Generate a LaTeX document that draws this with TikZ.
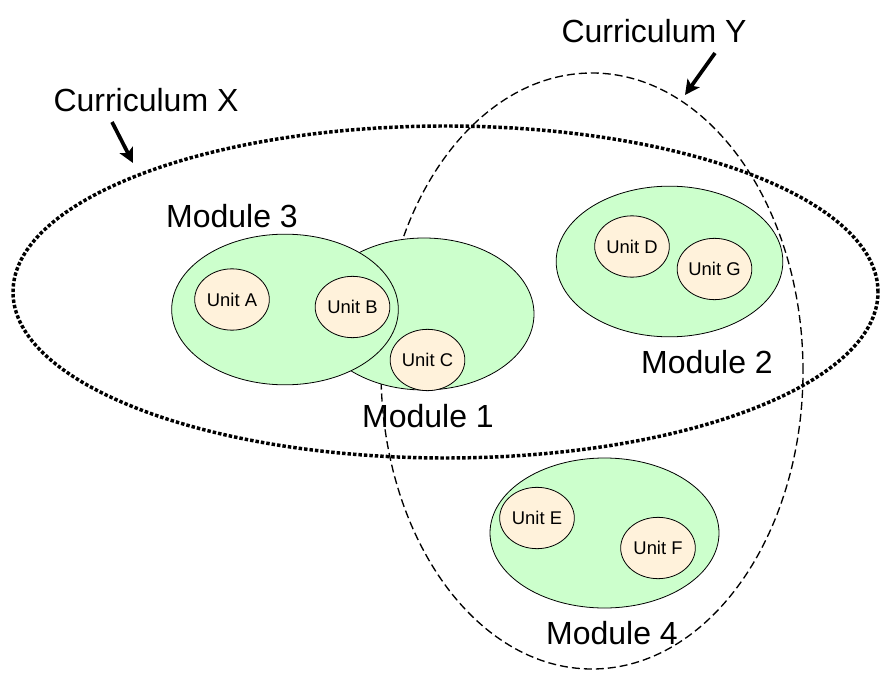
\documentclass[tikz,border=0pt]{standalone}
\usepackage{fontspec}
\setmainfont{Liberation Sans}
\usetikzlibrary{shapes.geometric}
\usetikzlibrary{arrows.meta}
\definecolor{modgreen}{HTML}{CCFFCC}
\definecolor{unitcream}{HTML}{FFF2DB}
\tikzset{
  module/.style={ellipse,draw=black,line width=0.6pt,fill=modgreen,inner sep=0pt,minimum width=170pt,minimum height=113pt},
  unit/.style={ellipse,draw=black,line width=0.6pt,fill=unitcream,inner sep=0pt,minimum width=56pt,minimum height=46pt,font=\fontsize{13.8}{16}\selectfont},
  biglabel/.style={font=\fontsize{24}{28}\selectfont,inner sep=0pt,anchor=base},
  pointer/.style={line width=2.8pt,-{Stealth[length=11pt,width=11pt,inset=2.5pt]}}
}
\begin{document}
\begin{tikzpicture}[x=0.75pt,y=-0.75pt]
\useasboundingbox (0,0) rectangle (880,673);
% the two curricula
\node[ellipse,draw,line width=2.6pt,dash pattern=on 2.6pt off 1.5pt,inner sep=0pt,minimum width=648.75pt,minimum height=249pt] (curX) at (445.5,292) {};
\node[ellipse,draw,line width=1pt,dash pattern=on 6pt off 3pt,inner sep=0pt,minimum width=316.5pt,minimum height=447pt] (curY) at (592,371) {};

% modules
\node[module,minimum width=165pt,minimum height=114pt] (mod1) at (424,314) {};
\node[module] (mod3) at (285,309.5) {};
\node[module] (mod2) at (669.5,261.5) {};
\node[module,minimum width=171.75pt,minimum height=112.5pt] (mod4) at (604.5,533) {};

% units
\node[unit] (unitA) at (232,299.5) {Unit A};
\node[unit] (unitB) at (352.5,307) {Unit B};
\node[unit] (unitC) at (427.5,360) {Unit C};
\node[unit] (unitD) at (632,246.5) {Unit D};
\node[unit] (unitG) at (714.5,269) {Unit G};
\node[unit] (unitE) at (537,518) {Unit E};
\node[unit] (unitF) at (658,548) {Unit F};

% labels
\node[biglabel] (lblX) at (146,112) {Curriculum X};
\node[biglabel] (lblY) at (654,43) {Curriculum Y};
\node[biglabel] (lbl3) at (232,228) {Module 3};
\node[biglabel] (lbl1) at (428,427) {Module 1};
\node[biglabel] (lbl2) at (707,373) {Module 2};
\node[biglabel] (lbl4) at (612,644) {Module 4};

% pointers
\coordinate (tailX) at (112,122);
\coordinate (tipX) at (133,163);
\coordinate (tailY) at (715,53);
\coordinate (tipY) at (685,95);
\draw[pointer] (tailX) -- (tipX);
\draw[pointer] (tailY) -- (tipY);
\end{tikzpicture}
\end{document}
